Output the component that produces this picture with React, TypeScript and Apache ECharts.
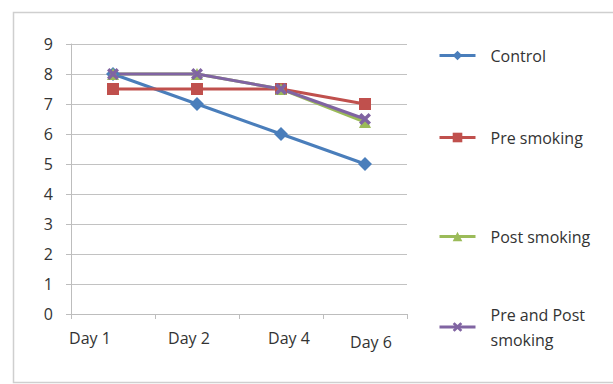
import React, { useEffect, useRef } from "react";
import * as echarts from "echarts";

const days = ["Day 1", "Day 2", "Day 4", "Day 6"];
const control = [8, 7, 6, 5];
const preSmoking = [7.5, 7.5, 7.5, 7];
const postSmoking = [8, 8, 7.5, 6.4];
const prePostSmoking = [8, 8, 7.5, 6.5];
const yTicks = [0, 1, 2, 3, 4, 5, 6, 7, 8, 9];

const FONT = "'Open Sans', sans-serif";
const TEXT = "#333333";
const GRID = "#c2c2c2";

// Filled "X" marker shape
const CROSS =
  "path://M0,2 L2,0 L5,3 L8,0 L10,2 L7,5 L10,8 L8,10 L5,7 L2,10 L0,8 L3,5 Z";

// per-label nudges of the category labels
const labelPads: number[][] = [
  [0, 46, 0, 0],
  [0, 16, 0, 0],
  [0, 0, 0, 16],
  [4, 0, 0, 12],
];

export default function App() {
  const ref = useRef<HTMLDivElement>(null);

  useEffect(() => {
    if (!ref.current) return;
    const chart = echarts.init(ref.current, null, { renderer: "svg" });

    const rich: Record<string, any> = {};
    labelPads.forEach((p, i) => {
      rich["s" + i] = {
        fontFamily: FONT,
        fontSize: 16,
        color: TEXT,
        padding: p,
      };
    });

    const seriesDefs = [
      { name: "Control", data: control, color: "#4a7ebb", symbol: "diamond", size: 14 },
      { name: "Pre smoking", data: preSmoking, color: "#c0504d", symbol: "rect", size: 12 },
      { name: "Post smoking", data: postSmoking, color: "#9bbb59", symbol: "triangle", size: 12 },
      { name: "Pre and Post smoking", data: prePostSmoking, color: "#8064a2", symbol: CROSS, size: 12 },
    ];

    const legendTops = [38, 120, 219, 297];

    chart.setOption({
      animation: false,
      backgroundColor: "#ffffff",
      graphic: [
        {
          type: "rect",
          shape: { x: 13.5, y: 12.5, width: 620, height: 370 },
          style: { fill: "none", stroke: "#cfcfcf", lineWidth: 1.5 },
          silent: true,
        },
      ],
      grid: { left: 71, right: 206, top: 44, bottom: 70 },
      legend: seriesDefs.map((s, i) => ({
        data: [s.name],
        left: 433,
        top: legendTops[i],
        orient: "vertical",
        itemWidth: 36,
        itemHeight: 12,
        selectedMode: false,
        lineStyle: { width: 3 },
        formatter: (n: string) =>
          n === "Pre and Post smoking" ? "Pre and Post\nsmoking" : n,
        textStyle: {
          fontFamily: FONT,
          fontSize: 16,
          color: TEXT,
          lineHeight: 25,
          padding: [0, 0, 0, 10],
        },
      })),
      xAxis: {
        type: "category",
        data: days,
        boundaryGap: true,
        axisLine: { lineStyle: { color: "#bdbdbd", width: 1 } },
        axisTick: { show: true, length: 5, lineStyle: { color: "#bdbdbd" } },
        axisLabel: {
          margin: 16,
          formatter: (v: string, i: number) => `{s${i}|${v}}`,
          rich,
        },
        splitLine: { show: false },
      },
      yAxis: {
        type: "value",
        min: yTicks[0],
        max: yTicks[yTicks.length - 1],
        interval: 1,
        axisLine: { show: true, lineStyle: { color: "#bdbdbd", width: 1 } },
        axisTick: { show: true, length: 5, lineStyle: { color: "#bdbdbd" } },
        axisLabel: {
          fontFamily: FONT,
          fontSize: 16,
          color: TEXT,
          margin: 18,
        },
        splitLine: { lineStyle: { color: GRID, width: 1 } },
      },
      series: seriesDefs.map((s) => ({
        name: s.name,
        type: "line",
        data: s.data,
        symbol: s.symbol,
        symbolSize: s.size,
        showAllSymbol: true,
        lineStyle: { color: s.color, width: 3 },
        itemStyle: { color: s.color, borderWidth: 0 },
        emphasis: { disabled: true },
      })),
    });

    return () => chart.dispose();
  }, []);

  return (
    <div
      ref={ref}
      style={{ position: "fixed", left: 0, top: 0, width: 613, height: 384 }}
    />
  );
}
